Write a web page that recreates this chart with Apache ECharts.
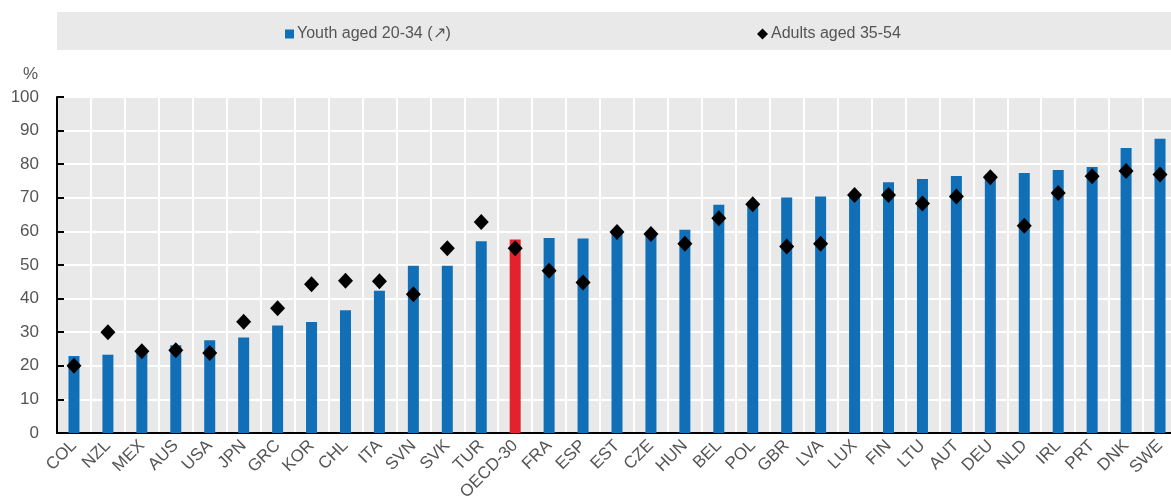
<!DOCTYPE html>
<html><head><meta charset="utf-8">
<script src="https://cdn.jsdelivr.net/npm/echarts@6/dist/echarts.min.js"></script>
<style>html,body{margin:0;padding:0;background:#fff}#c{width:1171px;height:498px}</style>
</head><body><div id="c"></div>
<script>
const categories = ["COL","NZL","MEX","AUS","USA","JPN","GRC","KOR","CHL","ITA","SVN","SVK","TUR","OECD-30","FRA","ESP","EST","CZE","HUN","BEL","POL","GBR","LVA","LUX","FIN","LTU","AUT","DEU","NLD","IRL","PRT","DNK","SWE"];
const youth = [22.9,23.3,24.2,26.1,27.6,28.4,32.0,33.0,36.5,42.3,49.8,49.8,57.1,57.6,58.0,57.9,60.0,59.2,60.5,67.9,68.4,70.1,70.4,71.0,74.6,75.6,76.5,76.9,77.4,78.3,79.2,84.8,87.6];
const adults = [20.0,30.0,24.3,24.6,23.8,33.1,37.1,44.3,45.3,45.2,41.3,55.0,62.8,55.0,48.3,44.8,59.8,59.2,56.3,63.9,68.1,55.5,56.3,70.8,70.8,68.3,70.4,76.1,61.7,71.4,76.4,78.0,76.9];
const highlight = "OECD-30";
const yTicks = [0,10,20,30,40,50,60,70,80,90,100];

const FONT = '"Liberation Sans Narrow","Arial Narrow","Liberation Sans",Arial,sans-serif';
const BLUE = '#106fb6', RED = '#e3232b', TXT = '#555555';

const chart = echarts.init(document.getElementById('c'));
chart.setOption({
  animation: false,
  textStyle: {fontFamily: FONT},
  graphic: [{type:'rect', left:57, top:12, shape:{width:1114, height:38}, style:{fill:'#e9e9e9'}, z:-1},
            {type:'text', left:23, top:66, style:{text:'%', fill:TXT, font:'17px '+FONT}}],
  legend: [
    {data:['Youth aged 20-34 (↗)'], left:280, top:21, itemWidth:9, itemHeight:9, itemGap:5, icon:'rect',
     textStyle:{color:TXT, fontSize:16, fontFamily:FONT, padding:[0,0,0,-2]}},
    {data:[{name:'Adults aged 35-54', icon:'diamond'}], left:752, top:21, itemWidth:11, itemHeight:11,
     textStyle:{color:TXT, fontSize:16, fontFamily:FONT, padding:[0,0,0,-2]}}
  ],
  grid: {left:57, right:-6, top:97, bottom:65, show:true, backgroundColor:'#e9e9e9', borderWidth:0,
         containLabel:false, outerBoundsMode:'none'},
  xAxis: {
    type:'category', data:categories, boundaryGap:true,
    axisLine:{lineStyle:{color:'#000', width:2}},
    axisTick:{inside:true, length:6, lineStyle:{color:'#000', width:2}},
    splitLine:{show:true, interval:0, lineStyle:{color:'#fff', width:2}},
    axisLabel:{interval:0, rotate:45, color:TXT, fontSize:17, fontFamily:FONT, margin:10}
  },
  yAxis: {
    type:'value', min:yTicks[0], max:yTicks[yTicks.length-1], interval:10,
    axisLine:{show:true, lineStyle:{color:'#000', width:2}},
    axisTick:{show:true, inside:true, length:7, lineStyle:{color:'#000', width:2}},
    splitLine:{lineStyle:{color:'#fff', width:2}},
    axisLabel:{color:TXT, fontSize:17, fontFamily:FONT, margin:18}
  },
  series: [
    {name:'Youth aged 20-34 (↗)', type:'bar', barWidth:11, itemStyle:{color:BLUE},
     data: youth.map((v,i)=> categories[i]===highlight ? {value:v, itemStyle:{color:RED}} : v)},
    {name:'Adults aged 35-54', type:'scatter', symbol:'diamond', symbolSize:[15,16], itemStyle:{color:'#000', opacity:1},
     data: adults, z:5}
  ]
});
</script></body></html>
